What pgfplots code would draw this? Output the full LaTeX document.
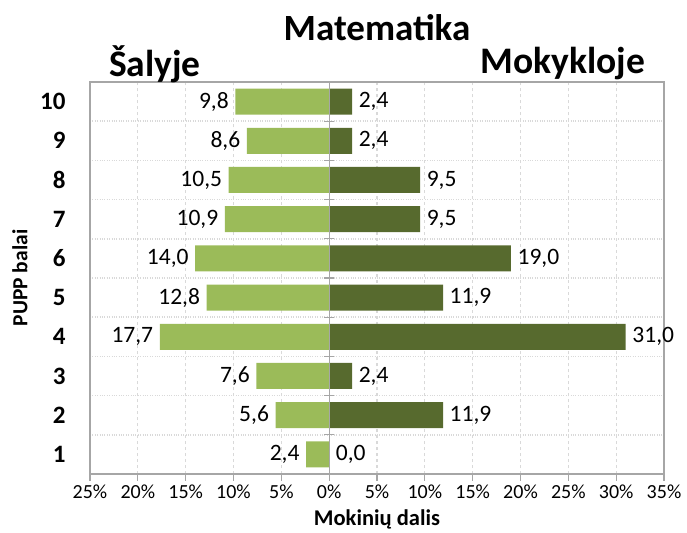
\documentclass[border=0pt]{standalone}
\usepackage{fontspec}
\setmainfont{Carlito}
\usepackage{pgfplots}
\pgfplotsset{compat=1.18}
\definecolor{lg}{HTML}{9BBB59}
\definecolor{dg}{HTML}{576A2E}
\definecolor{axc}{HTML}{A6A6A6}
\definecolor{grc}{HTML}{D9D9D9}
\begin{document}
\begin{tikzpicture}[x=1bp,y=1bp]
\useasboundingbox (-90,-59) rectangle (597,474);
\begin{axis}[at={(0,0)}, anchor=south west, scale only axis,
  width=574bp, height=392bp,
  xmin=-25, xmax=35, ymin=0.5, ymax=10.5,
  xbar, bar shift=0pt, bar width=26bp,
  xtick={-25,-20,...,35},
  xticklabels={25\%,20\%,15\%,10\%,5\%,0\%,5\%,10\%,15\%,20\%,25\%,30\%,35\%},
  ytick={1,...,10}, minor ytick={0.5,1.5,...,10.5},
  /pgf/number format/assume math mode=true,
  xmajorgrids, yminorgrids,
  major x grid style={grc, dashed, line width=1.2bp},
  minor y grid style={grc, dotted, line width=1.5bp},
  axis line style={axc, line width=1.3bp},
  xtick style={axc, line width=1.3bp},
  ytick style={draw=none},
  tick align=outside, major tick length=7bp, minor tick length=0pt,
  xtick pos=left, ytick pos=left,
  x tick label style={font=\fontsize{20bp}{24bp}\selectfont},
  y tick label style={font=\fontsize{25bp}{29bp}\selectfont\bfseries, xshift=-14bp},
  xlabel={Mokinių dalis}, ylabel={PUPP balai},
  xlabel style={font=\fontsize{22.5bp}{26bp}\selectfont\bfseries, at={(axis description cs:0.5,-0.117)}, anchor=center},
  ylabel style={font=\fontsize{21.5bp}{25bp}\selectfont\bfseries, at={(axis description cs:-0.122,0.5)}, anchor=center},
  point meta=explicit symbolic,
  nodes near coords,
  every node near coord/.append style={font=\fontsize{23.5bp}{27bp}\selectfont, black, inner sep=6.5bp},
]
\addplot[fill=lg, draw=none, every node near coord/.append style={anchor=east}] table[meta=m] {
x y m
-2.4 1 2,4
-5.6 2 5,6
-7.6 3 7,6
-17.7 4 17,7
-12.8 5 12,8
-14.0 6 14,0
-10.9 7 10,9
-10.5 8 10,5
-8.6 9 8,6
-9.8 10 9,8
};
\addplot[fill=dg, draw=none, every node near coord/.append style={anchor=west}] table[meta=m] {
x y m
0.0 1 0,0
11.9 2 11,9
2.4 3 2,4
31.0 4 31,0
11.9 5 11,9
19.0 6 19,0
9.5 7 9,5
9.5 8 9,5
2.4 9 2,4
2.4 10 2,4
};
\draw[axc, line width=1.3bp] (axis cs:0,0.5) -- (axis cs:0,10.5);
\pgfplotsinvokeforeach{1.5,2.5,3.5,4.5,5.5,6.5,7.5,8.5,9.5}{
  \draw[axc, line width=1.3bp] (axis cs:-0.55,#1) -- (axis cs:0.55,#1);
}
\end{axis}
\node[font=\fontsize{37bp}{41bp}\selectfont\bfseries] at (287,446) {Matematika};
\node[font=\fontsize{37.5bp}{41bp}\selectfont\bfseries] at (65,410) {Šalyje};
\node[font=\fontsize{37.5bp}{41bp}\selectfont\bfseries] at (473,410) {Mokykloje};
\end{tikzpicture}
\end{document}
